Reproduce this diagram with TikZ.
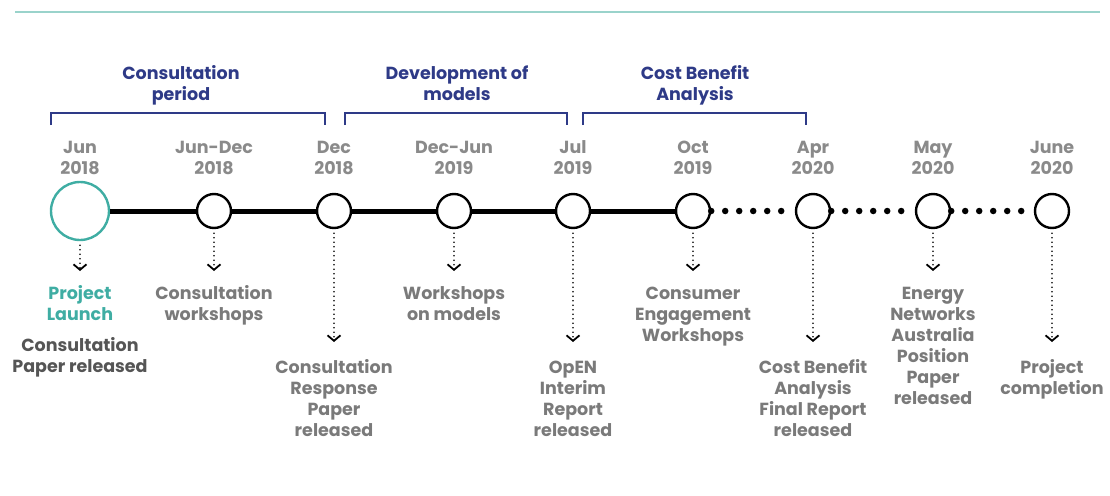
\documentclass[tikz,border=0pt]{standalone}
\usepackage{fontspec}
\setmainfont{Poppins}
\usetikzlibrary{arrows.meta}
\definecolor{rulecol}{HTML}{9AD3CB}
\definecolor{navy}{HTML}{2E3A87}
\definecolor{tealmark}{HTML}{3FADA3}
\definecolor{datecol}{HTML}{8A8A8A}
\definecolor{lblcol}{HTML}{7A7A7A}
\definecolor{darklbl}{HTML}{555555}
% fixed height for the first line of every label
\newcommand{\lineone}{\rule{0pt}{1em}}
\begin{document}
\begin{tikzpicture}[x=1pt,y=-1pt,
  txt/.style={font=\bfseries\fontsize{17.5}{21}\selectfont, align=center, inner sep=0pt, anchor=north},
  phase/.style={txt, text=navy},
  datelbl/.style={txt, text=datecol},
  lbl/.style={txt, text=lblcol},
  bracket/.style={draw=navy, line width=1.8pt},
  mile/.style={circle, draw=black, line width=2.4pt, fill=white, minimum size=34pt, inner sep=0pt},
  firstmile/.style={mile, draw=tealmark, minimum size=58pt},
  done/.style={line width=5pt},
  todo/.style={line width=6.5pt, line cap=round, dash pattern=on 0pt off 14pt},
  drop/.style={line width=1.7pt, line cap=round, dash pattern=on 0pt off 4.5pt,
    -{Straight Barb[length=5.5pt,width=13pt,line width=1.8pt]}}]
\useasboundingbox (0,0) rectangle (1110,495);

% header rule
\coordinate (ruleL) at (15,12);
\coordinate (ruleR) at (1100,12);
\draw[rulecol, line width=1.5pt] (ruleL) -- (ruleR);

% phases
\node[phase] (ph1) at (181,62) {\lineone Consultation\\period};
\node[phase] (ph2) at (457,62) {\lineone Development of\\models};
\node[phase] (ph3) at (695,62) {\lineone Cost Benefit\\Analysis};
\draw[bracket] (51,125) -- (51,113) -- (325,113) -- (325,125);
\draw[bracket] (345,125) -- (345,113) -- (567,113) -- (567,125);
\draw[bracket] (583,125) -- (583,113) -- (806,113) -- (806,125);

% dates
\node[datelbl] (d1) at (80,136) {\lineone Jun\\2018};
\node[datelbl] (d2) at (214,136) {\lineone Jun-Dec\\2018};
\node[datelbl] (d3) at (334,136) {\lineone Dec\\2018};
\node[datelbl] (d4) at (454,136) {\lineone Dec-Jun\\2019};
\node[datelbl] (d5) at (573,136) {\lineone Jul\\2019};
\node[datelbl] (d6) at (693,136) {\lineone Oct\\2019};
\node[datelbl] (d7) at (813,136) {\lineone Apr\\2020};
\node[datelbl] (d8) at (933,136) {\lineone May\\2020};
\node[datelbl] (d9) at (1052,136) {\lineone June\\2020};

% milestones
\node[firstmile] (m1) at (80,211) {};
\node[mile] (m2) at (214,211) {};
\node[mile] (m3) at (334,211) {};
\node[mile] (m4) at (454,211) {};
\node[mile] (m5) at (573,211) {};
\node[mile] (m6) at (693,211) {};
\node[mile] (m7) at (813,211) {};
\node[mile] (m8) at (933,211) {};
\node[mile] (m9) at (1052,211) {};

% timeline
\draw[done] (m1) -- (m2);
\draw[done] (m2) -- (m3);
\draw[done] (m3) -- (m4);
\draw[done] (m4) -- (m5);
\draw[done] (m5) -- (m6);
\draw[todo] (m6.east) -- (m7.west);
\draw[todo] (m7.east) -- (m8.west);
\draw[todo] (m8.east) -- (m9.west);

% drop arrow ends
\coordinate (e1) at (80,271);
\coordinate (e2) at (214,271);
\coordinate (e3) at (334,342);
\coordinate (e4) at (454,271);
\coordinate (e5) at (573,342);
\coordinate (e6) at (693,271);
\coordinate (e7) at (813,342);
\coordinate (e8) at (933,271);
\coordinate (e9) at (1052,342);
\foreach \i in {1,...,9} {
  \draw[drop] ([yshift=-4pt]m\i.south) -- (e\i);
}

% descriptions
\node[lbl, text=tealmark] (t1) at (80,282) {\lineone Project\\Launch};
\node[lbl, text=darklbl] (t1b) at (80,334) {\lineone Consultation\\Paper released};
\node[lbl] (t2) at (214,282) {\lineone Consultation\\workshops};
\node[lbl] (t3) at (334,356) {\lineone Consultation\\Response\\Paper\\released};
\node[lbl] (t4) at (454,282) {\lineone Workshops\\on models};
\node[lbl] (t5) at (573,356) {\lineone OpEN\\Interim\\Report\\released};
\node[lbl] (t6) at (693,282) {\lineone Consumer\\Engagement\\Workshops};
\node[lbl] (t7) at (813,356) {\lineone Cost Benefit\\Analysis\\Final Report\\released};
\node[lbl] (t8) at (933,282) {\lineone Energy\\Networks\\Australia\\Position\\Paper\\released};
\node[lbl] (t9) at (1052,356) {\lineone Project\\completion};
\end{tikzpicture}
\end{document}
